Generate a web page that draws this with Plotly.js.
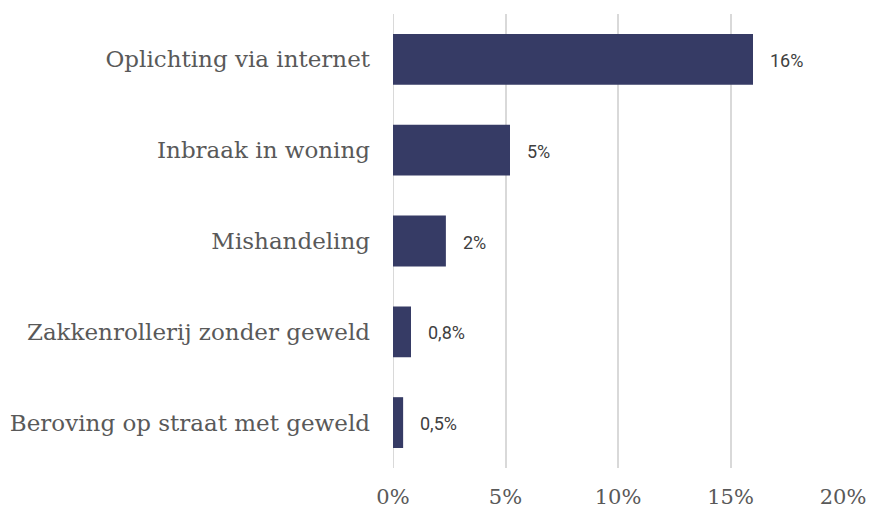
<!DOCTYPE html>
<html>
<head>
<meta charset="utf-8">
<script src="https://cdn.plot.ly/plotly-3.0.1.min.js"></script>
<style>html,body{margin:0;padding:0;background:#fff;}#chart{width:873px;height:511px;}</style>
</head>
<body>
<div id="chart"></div>
<script>
const categories = ["Oplichting via internet", "Inbraak in woning", "Mishandeling", "Zakkenrollerij zonder geweld", "Beroving op straat met geweld"];
const values = [16.0, 5.2, 2.35, 0.8, 0.45];
const valueLabels = ["16%", "5%", "2%", "0,8%", "0,5%"];
const tickValues = [0, 5, 10, 15, 20];
const tickLabels = ["0%", "5%", "10%", "15%", "20%"];

const trace = {
  type: "bar",
  orientation: "h",
  y: categories,
  x: values,
  marker: {color: "#363b65"},
  width: 0.56,
  hoverinfo: "none"
};

const annotations = values.map((v, i) => ({
  x: v, y: categories[i], xref: "x", yref: "y",
  text: valueLabels[i], showarrow: false,
  xanchor: "left", xshift: 15, yshift: -1,
  font: {family: "Roboto, sans-serif", size: 18, color: "#404040"}
}));

const layout = {
  width: 873, height: 511,
  margin: {l: 393, r: 30, t: 14, b: 43},
  paper_bgcolor: "#fff", plot_bgcolor: "#fff",
  showlegend: false,
  xaxis: {
    range: [0, 20],
    tickvals: tickValues, ticktext: tickLabels,
    showgrid: true, gridcolor: "#d9d9d9", gridwidth: 2,
    zeroline: false, showline: false,
    ticks: "", ticklabelstandoff: 14,
    tickfont: {family: "DejaVu Serif, serif", size: 21, color: "#595959"},
    fixedrange: true
  },
  yaxis: {
    autorange: "reversed",
    showgrid: false, zeroline: false, showline: false,
    ticks: "", ticklabelstandoff: 22,
    tickfont: {family: "DejaVu Serif, serif", size: 23, color: "#595959"},
    fixedrange: true
  },
  shapes: [{type: "line", xref: "x", yref: "paper", x0: 0, x1: 0, y0: 0, y1: 1, line: {color: "#d9d9d9", width: 2}, layer: "below"}],
  annotations: annotations
};

Plotly.newPlot("chart", [trace], layout, {displayModeBar: false, staticPlot: true});
</script>
</body>
</html>
